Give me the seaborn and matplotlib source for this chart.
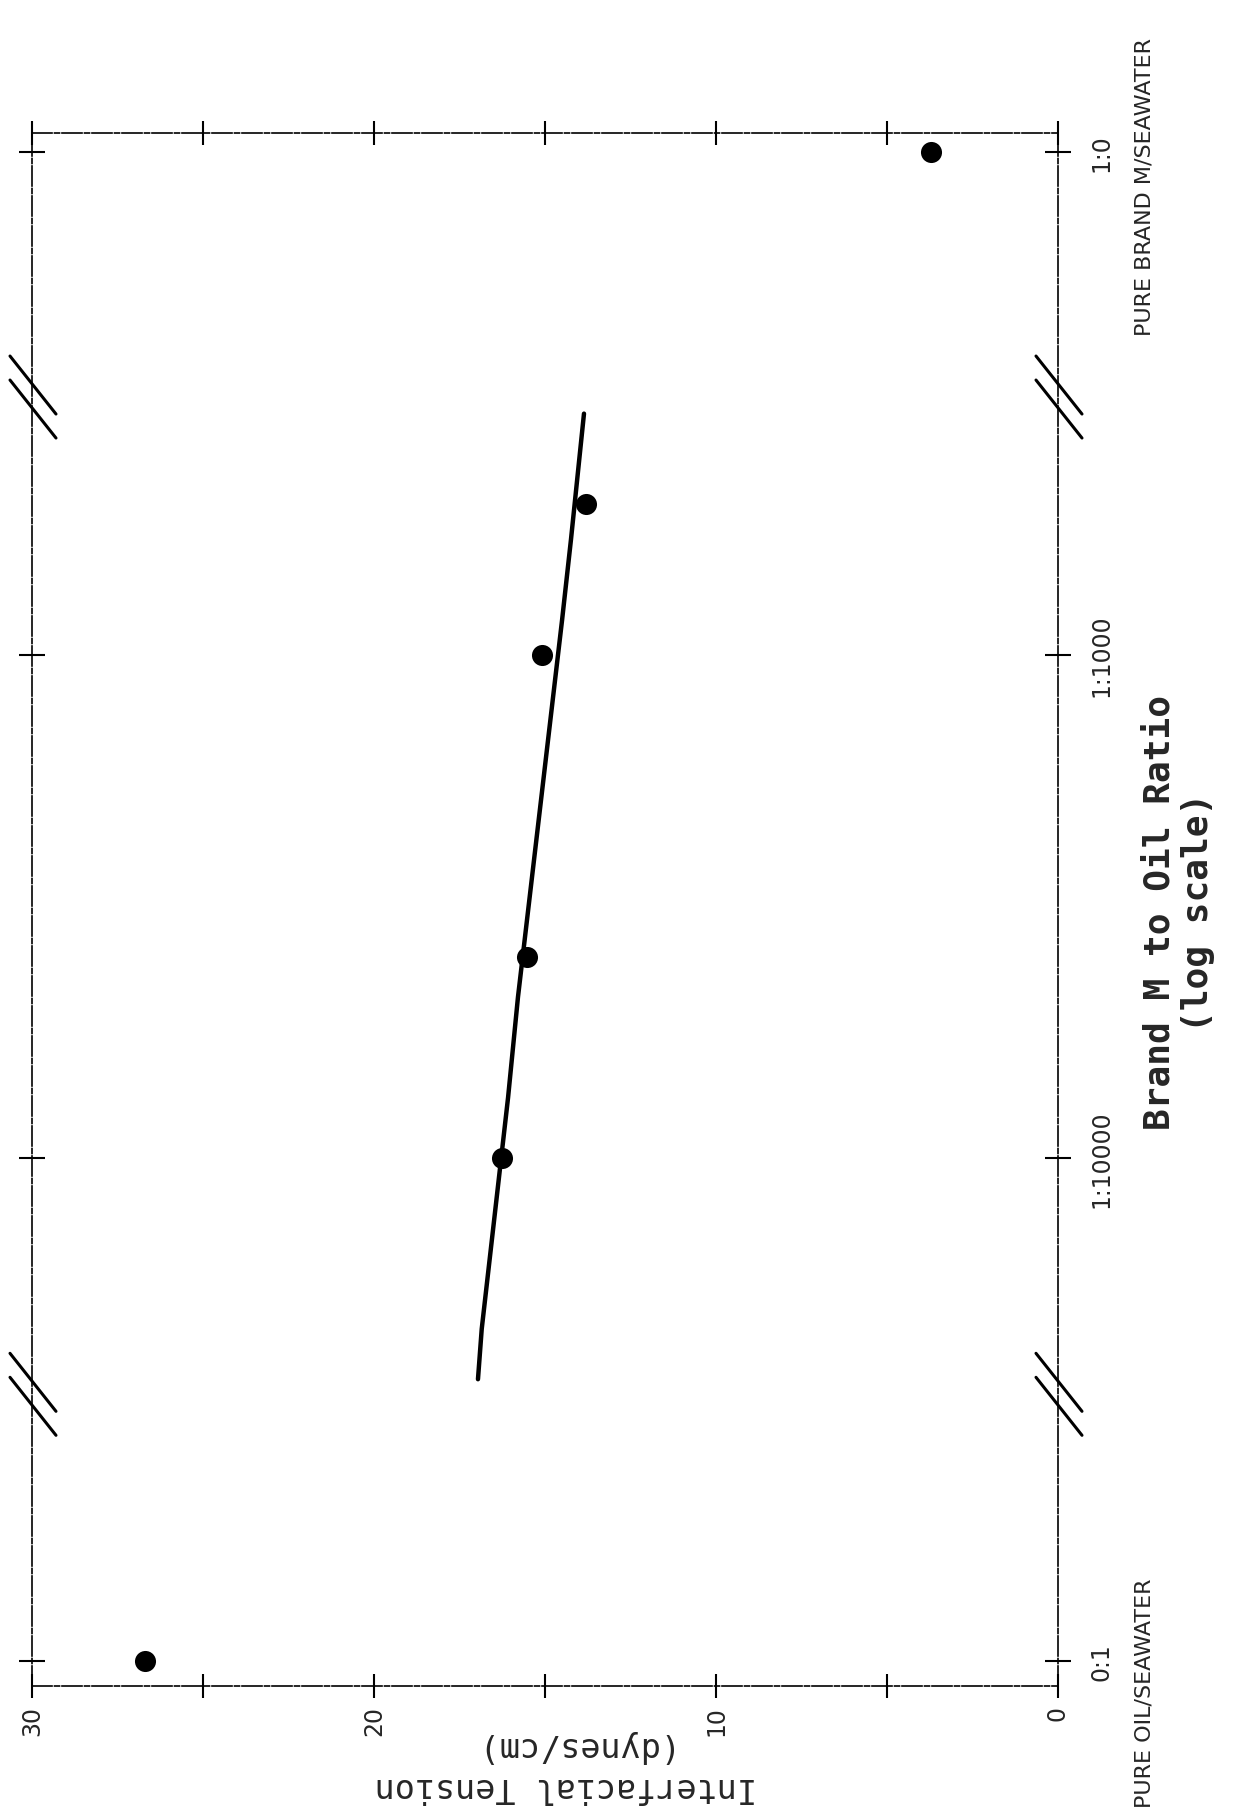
import matplotlib
matplotlib.use("Agg")
import matplotlib.pyplot as plt
import seaborn as sns
import pandas as pd
from matplotlib import font_manager as fm
from matplotlib.lines import Line2D
from matplotlib.transforms import IdentityTransform, blended_transform_factory

# ---------------- data ----------------
# vertical axis: position on a broken log10 scale of the Brand M : oil ratio
# (0:1 and 1:0 are drawn on the broken ends of the axis)
ratio_tick_pos = [-5, -4, -3, -2]
ratio_tick_labels = ["0:1", "1:10000", "1:1000", "1:0"]
break_pos = [-4.47, -2.487]

tension_ticks = [30, 25, 20, 15, 10, 5, 0]
tension_tick_labels = ["30", "", "20", "", "10", "", "0"]

point_ratio_pos = [-5.0, -4.0, -3.60, -3.0, -2.70, -2.0]
point_tension = [26.7, 16.26, 15.53, 15.09, 13.80, 3.71]

fit_ratio_pos = [-4.44, -4.34, -3.88, -3.68, -2.93, -2.77, -2.52]
fit_tension = [16.96, 16.85, 16.08, 15.79, 14.50, 14.24, 13.86]

# ---------------- style ----------------
sns.set_style("white")
names = {f.name for f in fm.fontManager.ttflist}
if "Liberation Sans Narrow" in names:
    NARROW = ["Liberation Sans Narrow", "DejaVu Sans"]
    TICK_FS, PURE_FS = 23, 21
else:
    NARROW = ["DejaVu Sans"]
    TICK_FS, PURE_FS = 17, 16
plt.rcParams["font.family"] = ["DejaVu Sans"]

W, H, DPI = 1238, 1815, 100
fig = plt.figure(figsize=(W / DPI, H / DPI), dpi=DPI)
L, R, T, B = 32, 1058, 134, 1687
ax = fig.add_axes([L / W, 1 - B / H, (R - L) / W, (B - T) / H])

pts = pd.DataFrame({"tension": point_tension, "ratio": point_ratio_pos})
fit = pd.DataFrame({"tension": fit_tension, "ratio": fit_ratio_pos})

sns.lineplot(data=fit, x="tension", y="ratio", sort=False, estimator=None,
             color="black", linewidth=3.2, ax=ax)
sns.scatterplot(data=pts, x="tension", y="ratio", color="black", s=230,
                edgecolor="black", linewidth=0, ax=ax, zorder=5)

ax.set_xlim(30, 0)
ax.set_ylim(-5.050, -1.962)
ax.set_xlabel("")
ax.set_ylabel("")

for s in ax.spines.values():
    s.set_color("black")
    s.set_linewidth(1.2)
    s.set_linestyle((0, (12, 1.5, 3, 1.5)))

ax.set_xticks(tension_ticks)
ax.set_xticklabels(tension_tick_labels, rotation=90, fontsize=TICK_FS,
                   family=NARROW)
ax.tick_params(axis="x", which="both", direction="inout", length=17,
               width=1.5, top=True, bottom=True, labeltop=False,
               labelbottom=True, pad=5, color="black")

ax.set_yticks(ratio_tick_pos)
ax.set_yticklabels(ratio_tick_labels, rotation=90, fontsize=TICK_FS,
                   family=NARROW, va="center")
ax.tick_params(axis="y", which="both", direction="inout", length=19,
               width=1.5, left=True, right=True, labelleft=False,
               labelright=True, pad=13, color="black")

# axis break marks (//) on both vertical spines
trans = blended_transform_factory(ax.transAxes, ax.transData)
for b in break_pos:
    for side in (0, 1):
        cx, cy = trans.transform((side, b))
        for off in (12, -12):
            x0, y0 = cx - 22, cy + off + 29
            x1, y1 = cx + 24, cy + off - 29
            fig.add_artist(Line2D([x0, x1], [y0, y1], color="black",
                                  linewidth=2.2, transform=IdentityTransform()))

# axis titles (rotated as in the scanned page)
def fx(px):
    return px / W

def fy(py):
    return 1 - py / H

fig.text(fx(566), fy(1747), "(dynes/cm)", rotation=180, ha="center",
         va="center", fontsize=24, family=["DejaVu Sans Mono"])
fig.text(fx(566), fy(1788), "Interfacial Tension", rotation=180, ha="center",
         va="center", fontsize=24, family=["DejaVu Sans Mono"])

fig.text(fx(1160), fy(912), "Brand M to Oil Ratio", rotation=90, ha="center",
         va="center", fontsize=26, fontweight="bold",
         family=["DejaVu Sans Mono"])
fig.text(fx(1198), fy(912), "(log scale)", rotation=90, ha="center",
         va="center", fontsize=26, fontweight="bold",
         family=["DejaVu Sans Mono"])

fig.text(fx(1144), fy(1808), "PURE OIL/SEAWATER", rotation=90, ha="center",
         va="bottom", fontsize=PURE_FS, family=NARROW)
fig.text(fx(1144), fy(336), "PURE BRAND M/SEAWATER", rotation=90,
         ha="center", va="bottom", fontsize=PURE_FS, family=NARROW)

fig.savefig("out.png", dpi=DPI, facecolor="white")
